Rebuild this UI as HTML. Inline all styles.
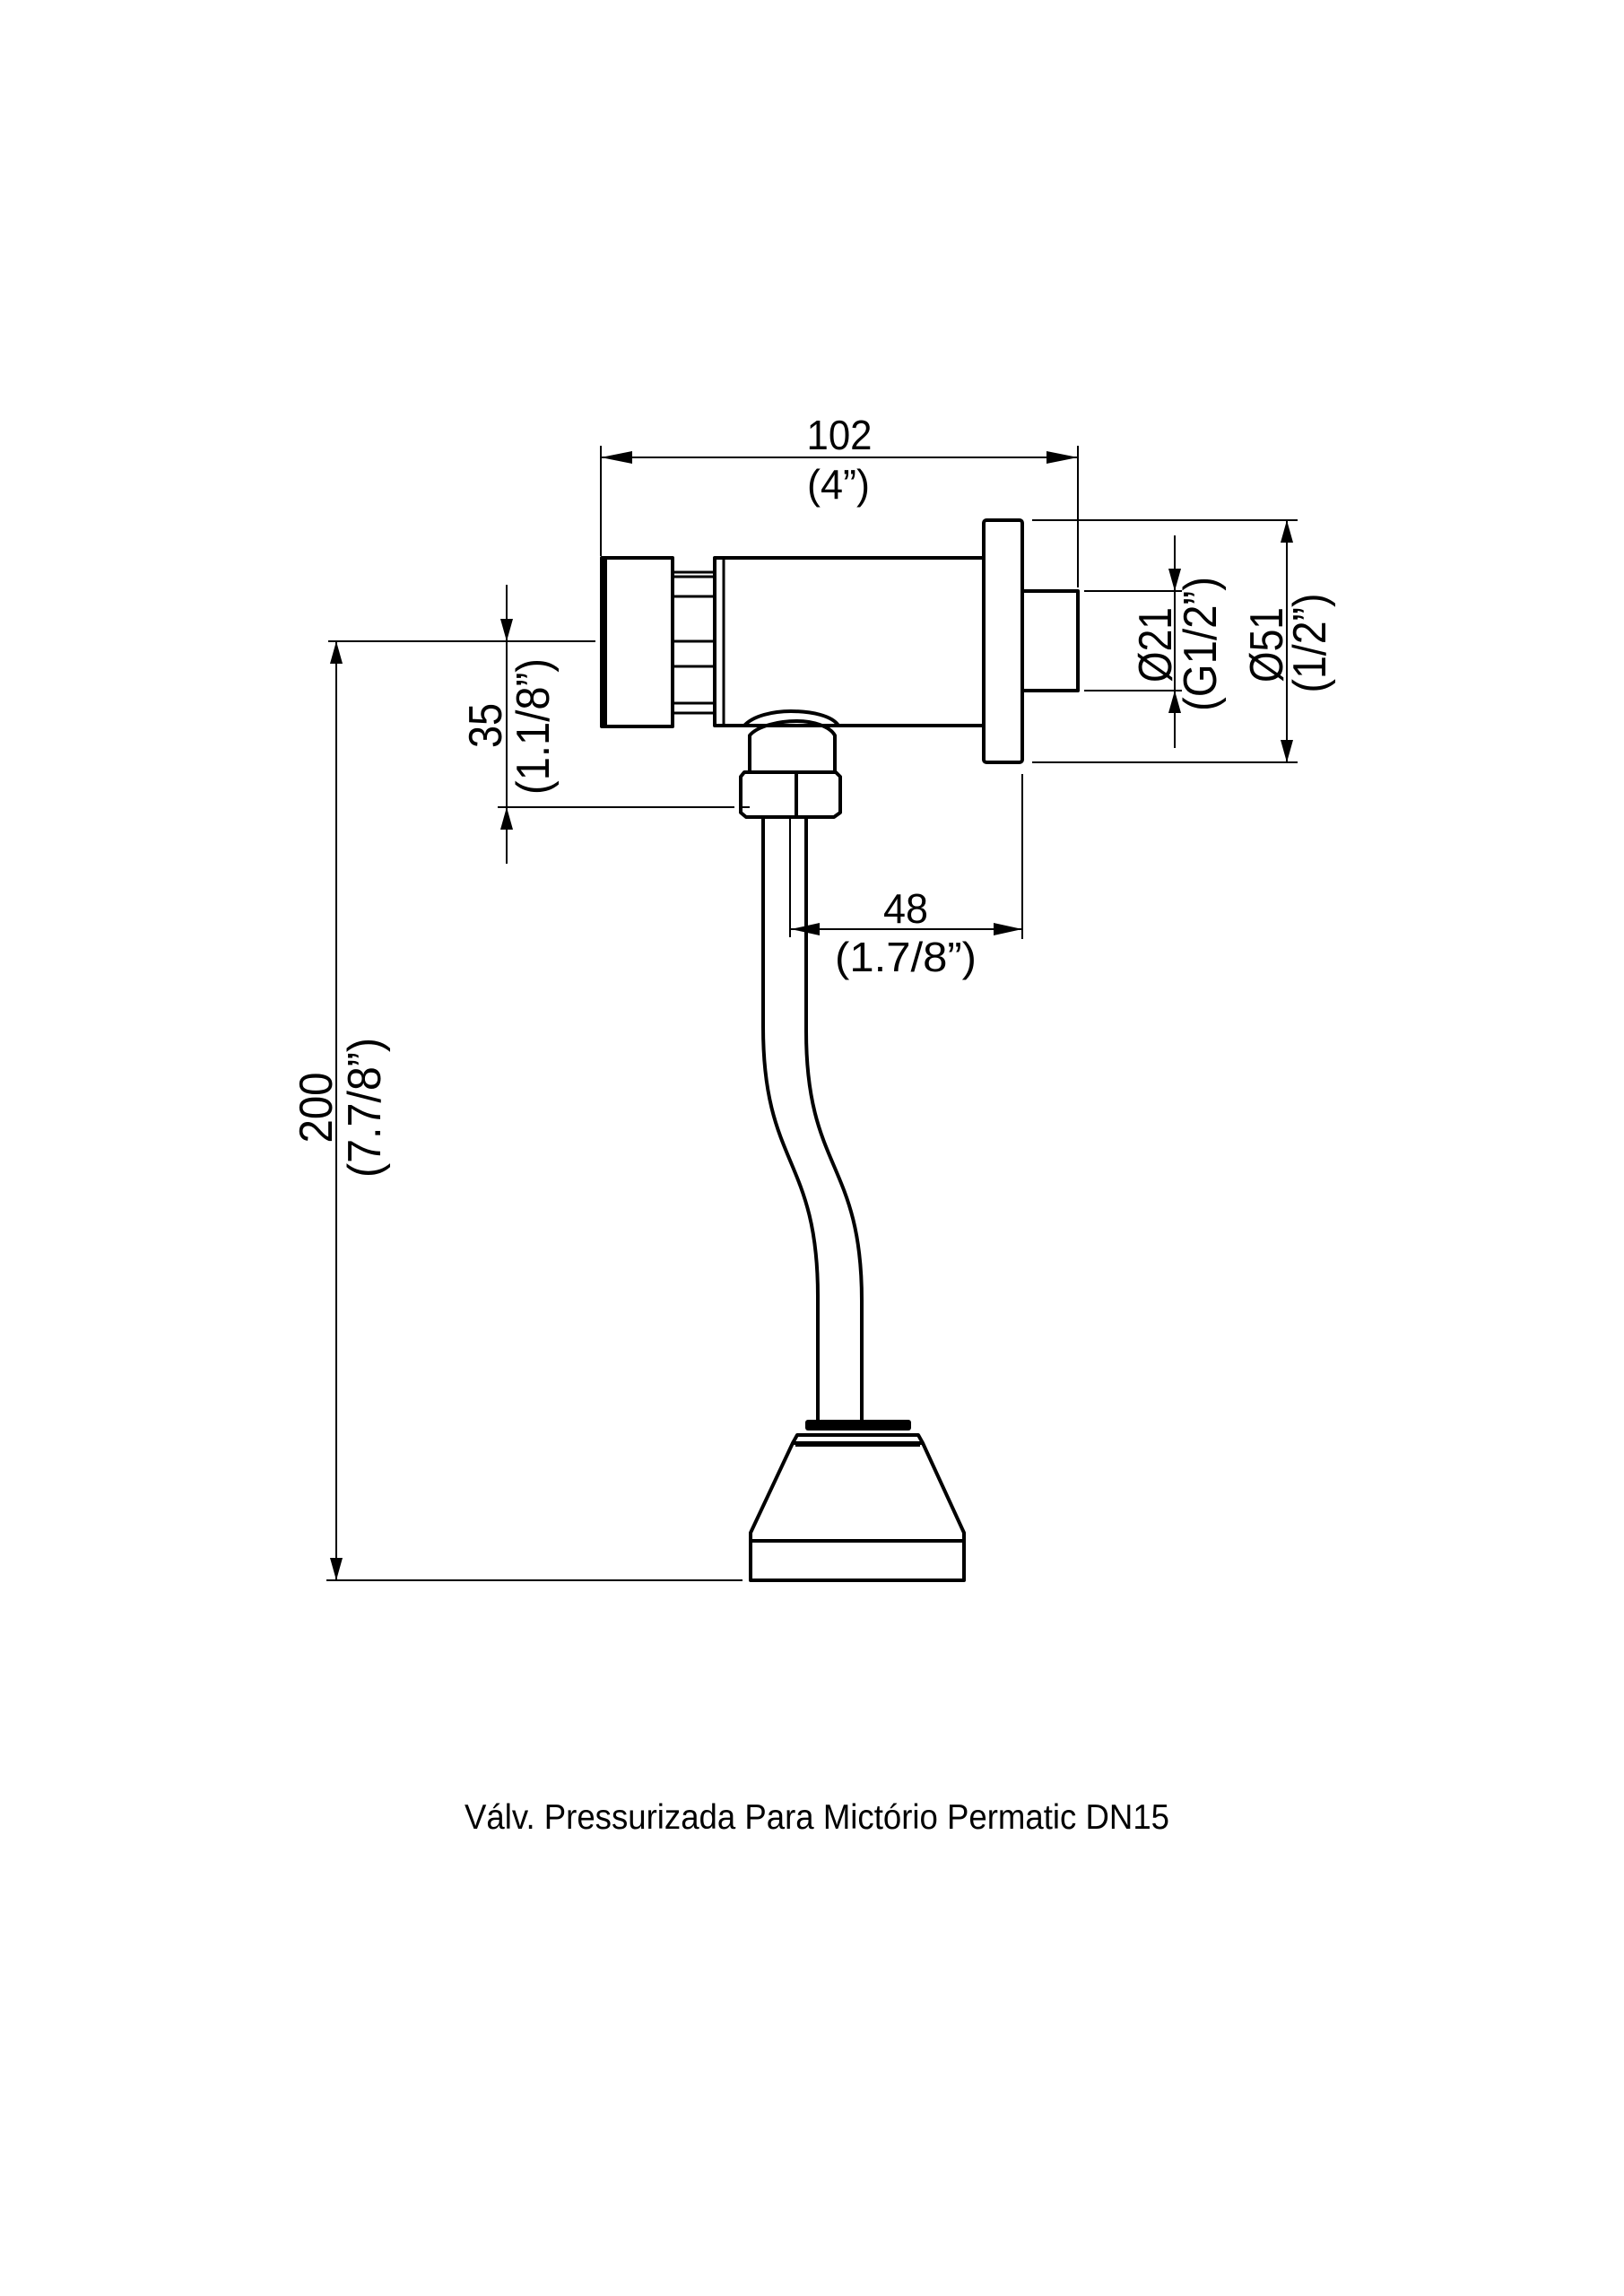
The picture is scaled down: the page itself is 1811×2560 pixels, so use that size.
<!DOCTYPE html>
<html><head><meta charset="utf-8"><style>html,body{margin:0;padding:0;background:#fff}svg{display:block}</style></head>
<body>
<svg width="1811" height="2560" viewBox="0 0 1811 2560" xmlns="http://www.w3.org/2000/svg">
<g fill="none" stroke="#000" stroke-width="2">
<line x1="670" y1="510" x2="1202" y2="510"/>
<line x1="670" y1="497" x2="670" y2="620"/>
<line x1="1202" y1="497" x2="1202" y2="655"/>
<line x1="1435" y1="580" x2="1435" y2="850"/>
<line x1="1151" y1="580" x2="1447" y2="580"/>
<line x1="1151" y1="850" x2="1447" y2="850"/>
<line x1="1310" y1="597" x2="1310" y2="834"/>
<line x1="1209" y1="659" x2="1318" y2="659"/>
<line x1="1209" y1="770" x2="1318" y2="770"/>
<line x1="565" y1="652" x2="565" y2="963"/>
<line x1="366" y1="715" x2="664" y2="715"/>
<line x1="555" y1="900" x2="819" y2="900"/>
<line x1="375" y1="715" x2="375" y2="1762"/>
<line x1="364" y1="1762" x2="828" y2="1762"/>
<line x1="880" y1="1036" x2="1140" y2="1036"/>
<line x1="1140" y1="863" x2="1140" y2="1047"/>
<line x1="881" y1="913" x2="881" y2="1045"/>
</g>
<g fill="#000">
<polygon points="670,510 705,503 705,517"/>
<polygon points="1202,510 1167,503 1167,517"/>
<polygon points="1435,580 1428,605 1442,605"/>
<polygon points="1435,850 1428,825 1442,825"/>
<polygon points="1310,659 1303,634 1317,634"/>
<polygon points="1310,770 1303,795 1317,795"/>
<polygon points="565,715 558,690 572,690"/>
<polygon points="565,900 558,925 572,925"/>
<polygon points="375,715 368,740 382,740"/>
<polygon points="375,1762 368,1737 382,1737"/>
<polygon points="882,1036 914,1029 914,1043"/>
<polygon points="1140,1036 1108,1029 1108,1043"/>
</g>
<g fill="none" stroke="#000" stroke-width="4" stroke-linejoin="round">
<rect x="671" y="622" width="79" height="188"/>
<line x1="675" y1="624" x2="675" y2="808"/>
<g stroke-width="3">
<line x1="750" y1="638" x2="795" y2="638"/>
<line x1="750" y1="643" x2="795" y2="643"/>
<line x1="750" y1="665" x2="795" y2="665"/>
<line x1="750" y1="715" x2="795" y2="715"/>
<line x1="750" y1="743" x2="795" y2="743"/>
<line x1="750" y1="784" x2="795" y2="784"/>
<line x1="750" y1="795" x2="795" y2="795"/>
<line x1="807" y1="624" x2="807" y2="807"/>
</g>
<rect x="797" y="622" width="300" height="187"/>
<rect x="1097" y="580" width="43" height="270" rx="3"/>
<rect x="1140" y="659" width="62" height="111"/>
<path d="M830 809 C840 798 862 793 882 793 C905 793 928 798 935 809"/>
<path d="M836 861 L836 820 C845 809 870 804 888 804 C905 804 925 809 931 820 L931 861"/>
<path d="M830 861 L932 861 L937 866 L937 906 L930 911 L832 911 L826 906 L826 866 Z"/>
<line x1="888" y1="861" x2="888" y2="911"/>
<line x1="826" y1="900" x2="836" y2="900" stroke-width="2"/>
<path d="M851 911 L851 1145 C851 1300 912 1290 912 1445 L912 1585"/>
<path d="M899 911 L899 1150 C899 1305 961 1295 961 1450 L961 1585"/>
<path d="M884 1609 L1029 1609 L1075 1709 L1075 1762 L837 1762 L837 1709 Z"/>
<line x1="837" y1="1718" x2="1075" y2="1718"/>
<path d="M884 1609 L889 1600 L1024 1600 L1029 1609"/>
<line x1="887" y1="1612" x2="1026" y2="1612" stroke-width="2"/>
</g>
<rect x="898" y="1583" width="118" height="12" rx="3" fill="#000"/>
<g font-family="Liberation Sans, sans-serif" font-size="46" fill="#000" text-anchor="middle">
<text x="936" y="501" textLength="73" lengthAdjust="spacingAndGlyphs">102</text>
<text x="935" y="556" textLength="70" lengthAdjust="spacingAndGlyphs">(4”)</text>
<text x="1010" y="1029" textLength="50" lengthAdjust="spacingAndGlyphs">48</text>
<text x="1010" y="1083" textLength="158" lengthAdjust="spacingAndGlyphs">(1.7/8”)</text>
</g>
<g font-family="Liberation Sans, sans-serif" font-size="52" fill="#000" text-anchor="middle">
<text transform="translate(1306,719) rotate(-90)" textLength="84" lengthAdjust="spacingAndGlyphs">Ø21</text>
<text transform="translate(1356,718) rotate(-90)" textLength="150" lengthAdjust="spacingAndGlyphs">(G1/2”)</text>
<text transform="translate(1430,719) rotate(-90)" textLength="84" lengthAdjust="spacingAndGlyphs">Ø51</text>
<text transform="translate(1478,717) rotate(-90)" textLength="111" lengthAdjust="spacingAndGlyphs">(1/2”)</text>
<text transform="translate(559,809) rotate(-90)" textLength="50" lengthAdjust="spacingAndGlyphs">35</text>
<text transform="translate(612,810) rotate(-90)" textLength="152" lengthAdjust="spacingAndGlyphs">(1.1/8”)</text>
<text transform="translate(370,1235) rotate(-90)" textLength="79" lengthAdjust="spacingAndGlyphs">200</text>
<text transform="translate(424,1235) rotate(-90)" textLength="156" lengthAdjust="spacingAndGlyphs">(7.7/8”)</text>
</g>
<text x="518" y="2039" font-family="Liberation Sans, sans-serif" font-size="39" textLength="786" lengthAdjust="spacingAndGlyphs">Válv. Pressurizada Para Mictório Permatic DN15</text>
</svg>
</body></html>
